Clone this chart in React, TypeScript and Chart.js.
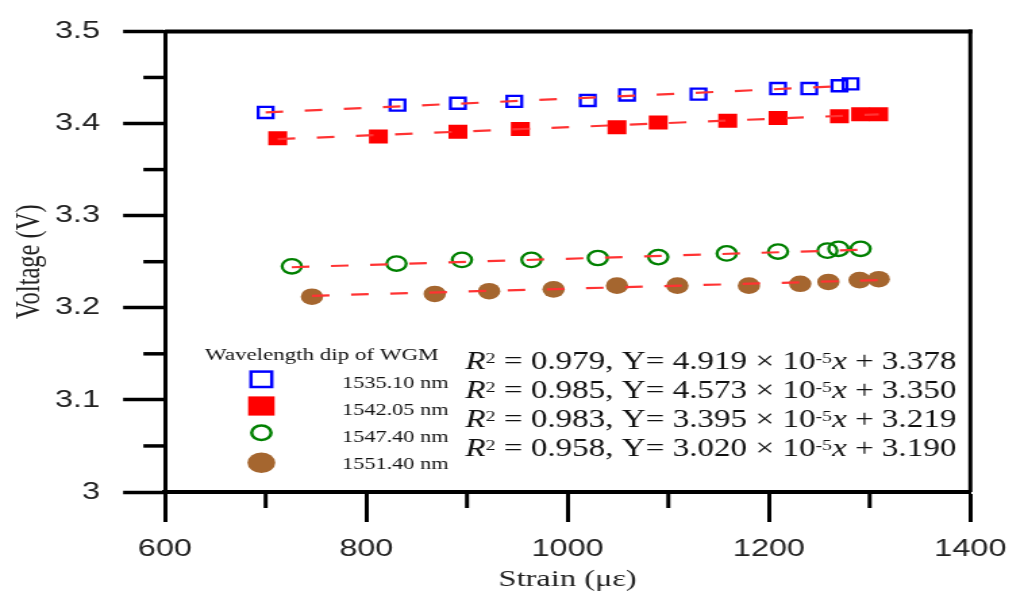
import { useEffect, useRef } from 'react';
import { Chart, registerables } from 'chart.js';

Chart.register(...registerables);

// ---------- data ----------
const strain1535 = [700, 831, 891, 947, 1020, 1059, 1130, 1209, 1240, 1270, 1281];
const volt1535 = [3.412, 3.42, 3.422, 3.424, 3.425, 3.431, 3.432, 3.438, 3.438, 3.441, 3.443];

const strain1542 = [712, 812, 891, 953, 1049, 1090, 1159, 1209, 1270, 1291, 1309];
const volt1542 = [3.384, 3.386, 3.391, 3.394, 3.396, 3.401, 3.403, 3.406, 3.408, 3.41, 3.41];

const strain1547 = [726, 830, 895, 964, 1030, 1090, 1158, 1209, 1258, 1269, 1291];
const volt1547 = [3.245, 3.248, 3.252, 3.252, 3.254, 3.255, 3.259, 3.261, 3.262, 3.264, 3.264];

const strain1551 = [746, 868, 922, 986, 1049, 1109, 1180, 1231, 1259, 1290, 1309];
const volt1551 = [3.212, 3.215, 3.218, 3.22, 3.224, 3.224, 3.224, 3.226, 3.228, 3.23, 3.231];

// fitted line end points
const fit1535X = [700, 1281];
const fit1535Y = [3.412, 3.441];
const fit1542X = [712, 1309];
const fit1542Y = [3.383, 3.41];
const fit1547X = [726, 1291];
const fit1547Y = [3.244, 3.263];
const fit1551X = [746, 1309];
const fit1551Y = [3.213, 3.23];

const legendTitle = 'Wavelength dip of WGM';
const seriesLabels = ['1535.10 nm', '1542.05 nm', '1547.40 nm', '1551.40 nm'];
const eqR2 = ['0.979', '0.985', '0.983', '0.958'];
const eqSlope = ['4.919', '4.573', '3.395', '3.020'];
const eqIntercept = ['3.378', '3.350', '3.219', '3.190'];

const xMajorTicks = [600, 800, 1000, 1200, 1400];
const xMinorTicks = [700, 900, 1100, 1300];
const yMinorTicks = [3.05, 3.15, 3.25, 3.35, 3.45];

// ---------- layout ----------
const CANVAS_W = 758;
const CANVAS_H = 612;
const PAGE_W = 1024;
const SX = PAGE_W / CANVAS_W; // the reference is horizontally stretched
const px = (x: number) => x / SX;

const PLOT_LEFT = px(165);
const PLOT_RIGHT = px(977);
const PLOT_TOP = 28;
const PLOT_BOTTOM = 492;

const SERIF = "'Liberation Serif'";
const SANS = "'Liberation Sans'";

const toPts = (xs: number[], ys: number[]) => xs.map((x, i) => ({ x, y: ys[i] }));

function drawEquation(ctx: CanvasRenderingContext2D, x: number, baseline: number, r2: string, slope: string, icpt: string) {
  const base = 24.5;
  const sup = base * 0.6;
  const normal = `${base}px ${SERIF}`;
  const italic = `italic ${base}px ${SERIF}`;
  const small = `${sup}px ${SERIF}`;
  const parts = [
    { t: 'R', f: italic, dy: 0 },
    { t: '2', f: small, dy: -6.5 },
    { t: ` = ${r2}, Y= ${slope} × 10`, f: normal, dy: 0 },
    { t: '-5', f: small, dy: -6.5 },
    { t: 'x', f: italic, dy: 0 },
    { t: ` + ${icpt}`, f: normal, dy: 0 },
  ];
  let cx = x;
  for (const p of parts) {
    ctx.font = p.f;
    ctx.fillText(p.t, cx, baseline + p.dy);
    cx += ctx.measureText(p.t).width;
  }
}

const framePlugin = {
  id: 'frameAndMinor',
  afterDraw(chart: any) {
    const { ctx, chartArea, scales } = chart;
    const xs = scales.x;
    const ys = scales.y;
    ctx.save();
    ctx.strokeStyle = '#000';
    // top frame line
    ctx.lineWidth = 4;
    ctx.beginPath();
    ctx.moveTo(chartArea.left, chartArea.top);
    ctx.lineTo(chartArea.right + 1.5, chartArea.top);
    ctx.stroke();
    // right frame line
    ctx.lineWidth = 3;
    ctx.beginPath();
    ctx.moveTo(chartArea.right, chartArea.top - 2);
    ctx.lineTo(chartArea.right, chartArea.bottom);
    ctx.stroke();
    // minor ticks x
    ctx.lineWidth = 3;
    for (const v of xMinorTicks) {
      const p = xs.getPixelForValue(v);
      ctx.beginPath();
      ctx.moveTo(p, chartArea.bottom);
      ctx.lineTo(p, chartArea.bottom + 16);
      ctx.stroke();
    }
    // minor ticks y
    ctx.lineWidth = 3.5;
    for (const v of yMinorTicks) {
      const p = ys.getPixelForValue(v);
      ctx.beginPath();
      ctx.moveTo(chartArea.left, p);
      ctx.lineTo(chartArea.left - 16, p);
      ctx.stroke();
    }
    ctx.restore();
  },
};

const legendPlugin = {
  id: 'customLegend',
  afterDraw(chart: any) {
    const { ctx } = chart;
    ctx.save();
    ctx.fillStyle = '#111';
    ctx.textBaseline = 'alphabetic';
    ctx.textAlign = 'left';
    ctx.font = `17px ${SERIF}`;
    ctx.fillText(legendTitle, px(205), 359.5);

    const mx = px(261.4);
    const my = [379.3, 406, 432.7, 462.7];
    // blue open square
    ctx.strokeStyle = '#0000ff';
    ctx.lineWidth = 2.5;
    ctx.strokeRect(mx - 7.7, my[0] - 7.7, 15.4, 15.4);
    // red filled square
    ctx.fillStyle = '#ff0000';
    ctx.fillRect(mx - 9.8, my[1] - 9.6, 19.6, 19.2);
    // green open circle
    ctx.strokeStyle = '#008000';
    ctx.beginPath();
    ctx.arc(mx, my[2], 7.2, 0, Math.PI * 2);
    ctx.stroke();
    // brown filled circle
    ctx.fillStyle = '#a5662f';
    ctx.beginPath();
    ctx.arc(mx, my[3], 10.3, 0, Math.PI * 2);
    ctx.fill();

    ctx.fillStyle = '#111';
    ctx.font = `16.5px ${SERIF}`;
    const ly = [382, 409, 436, 463];
    seriesLabels.forEach((s, i) => ctx.fillText(s, px(342), ly[i] + 5.6));

    const ey = [361, 390, 419, 448];
    for (let i = 0; i < 4; i++) {
      drawEquation(ctx, px(465.5), ey[i] + 8, eqR2[i], eqSlope[i], eqIntercept[i]);
    }
    ctx.restore();
  },
};

const FIT_COLOR = '#ff3333';
const fitStyle = {
  showLine: true,
  pointRadius: 0,
  borderColor: FIT_COLOR,
  borderWidth: 2.2,
  borderDash: [13, 16],
  fill: false,
  order: 0,
};

export default function App() {
  const ref = useRef<HTMLCanvasElement>(null);

  useEffect(() => {
    const canvas = ref.current;
    if (!canvas) return;
    const chart = new Chart(canvas, {
      type: 'scatter',
      data: {
        datasets: [
          { ...fitStyle, data: toPts(fit1535X, fit1535Y) },
          { ...fitStyle, data: toPts(fit1542X, fit1542Y) },
          { ...fitStyle, data: toPts(fit1547X, fit1547Y) },
          { ...fitStyle, data: toPts(fit1551X, fit1551Y) },
          {
            label: seriesLabels[0],
            data: toPts(strain1535, volt1535),
            pointStyle: 'rect',
            pointRadius: 7.8,
            pointBorderWidth: 2.3,
            pointBorderColor: '#0000ff',
            pointBackgroundColor: 'rgba(255,255,255,0)',
            order: 1,
          },
          {
            label: seriesLabels[1],
            data: toPts(strain1542, volt1542),
            pointStyle: 'rect',
            pointRadius: 9.9,
            pointBorderWidth: 0,
            pointBorderColor: '#ff0000',
            pointBackgroundColor: '#ff0000',
            order: 1,
          },
          {
            label: seriesLabels[2],
            data: toPts(strain1547, volt1547),
            pointStyle: 'circle',
            pointRadius: 7.2,
            pointBorderWidth: 2.3,
            pointBorderColor: '#008000',
            pointBackgroundColor: 'rgba(255,255,255,0)',
            order: 1,
          },
          {
            label: seriesLabels[3],
            data: toPts(strain1551, volt1551),
            pointStyle: 'circle',
            pointRadius: 8.3,
            pointBorderWidth: 0,
            pointBorderColor: '#a5662f',
            pointBackgroundColor: '#a5662f',
            order: 1,
          },
        ],
      } as any,
      options: {
        animation: false,
        responsive: false,
        events: [],
        layout: { padding: { left: 0, top: PLOT_TOP, right: CANVAS_W - PLOT_RIGHT, bottom: 0 } },
        plugins: {
          legend: { display: false },
          tooltip: { enabled: false },
        },
        scales: {
          x: {
            type: 'linear',
            position: 'bottom',
            min: 600,
            max: 1400,
            afterBuildTicks: (s: any) => {
              s.ticks = xMajorTicks.map((v) => ({ value: v }));
            },
            afterFit: (s: any) => {
              s.height = CANVAS_H - PLOT_BOTTOM;
            },
            ticks: {
              padding: 13,
              maxRotation: 0,
              autoSkip: false,
              color: '#222',
              font: { family: SANS, size: 24 },
              callback: (v: any) => String(v),
            },
            grid: {
              display: true,
              drawOnChartArea: false,
              drawTicks: true,
              tickLength: 30,
              tickColor: '#000',
              tickWidth: 3,
            },
            border: { display: true, color: '#000', width: 4 },
            title: {
              display: true,
              text: 'Strain (με)',
              color: '#222',
              font: { family: SERIF, size: 24 },
              padding: { top: 0, bottom: 17.5 },
            },
          },
          y: {
            type: 'linear',
            position: 'left',
            min: 3,
            max: 3.5,
            afterFit: (s: any) => {
              s.width = PLOT_LEFT;
            },
            ticks: {
              stepSize: 0.1,
              padding: 17,
              color: '#222',
              font: { family: SANS, size: 24 },
              callback: (v: any) => String(Math.round(Number(v) * 10) / 10),
            },
            grid: {
              display: true,
              drawOnChartArea: false,
              drawTicks: true,
              tickLength: 31,
              tickColor: '#000',
              tickWidth: 3.5,
            },
            border: { display: true, color: '#000', width: 3 },
            title: {
              display: true,
              text: 'Voltage (V)',
              color: '#222',
              font: { family: SERIF, size: 24.5 },
              padding: { top: 7.5, bottom: 0 },
            },
          },
        },
      } as any,
      plugins: [framePlugin, legendPlugin],
    });
    return () => chart.destroy();
  }, []);

  return (
    <canvas
      ref={ref}
      width={CANVAS_W}
      height={CANVAS_H}
      style={{
        position: 'fixed',
        left: 0,
        top: 0,
        width: `${PAGE_W}px`,
        height: `${CANVAS_H}px`,
        background: '#fff',
      }}
    />
  );
}
